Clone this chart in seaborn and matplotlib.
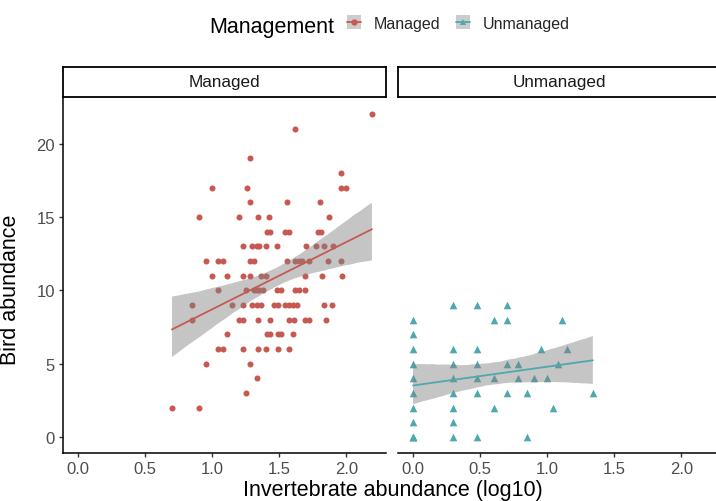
import numpy as np
import pandas as pd
import matplotlib
matplotlib.use("Agg")
import matplotlib.pyplot as plt
import seaborn as sns
from matplotlib.lines import Line2D
from matplotlib.patches import Patch

# managed sites, read row by row (bird abundance = y)
managed_x = [2.19, 1.62, 1.28, 1.96,
             1.00, 1.26, 1.96, 2.00,
             1.28, 1.56, 1.80,
             0.90, 1.20, 1.34, 1.42, 1.87,
             1.41, 1.43, 1.54, 1.57, 1.79, 1.81,
             1.23, 1.30, 1.33, 1.35, 1.40, 1.48, 1.70, 1.77, 1.83, 1.90,
             0.95, 1.04, 1.08, 1.28, 1.31, 1.56, 1.62, 1.65, 1.67, 1.72, 1.86, 1.96,
             1.00, 1.11, 1.23, 1.28, 1.36, 1.40, 1.69, 1.82, 1.97,
             1.04, 1.25, 1.31, 1.33, 1.35, 1.38, 1.48, 1.51, 1.62, 1.65, 1.69,
             0.85, 1.15, 1.23, 1.30, 1.33, 1.36, 1.46, 1.49, 1.54, 1.57, 1.60, 1.63, 1.83, 1.89,
             0.85, 1.20, 1.23, 1.34, 1.43, 1.57, 1.61, 1.69, 1.72, 1.85,
             1.11, 1.41, 1.43, 1.49, 1.51, 1.60,
             1.04, 1.08, 1.23, 1.34, 1.40, 1.49, 1.57,
             0.95, 1.28,
             1.33,
             1.25,
             0.70, 0.90]
managed_y = [22, 21, 19, 18,
             17, 17, 17, 17,
             16, 16, 16,
             15, 15, 15, 15, 15,
             14, 14, 14, 14, 14, 14,
             13, 13, 13, 13, 13, 13, 13, 13, 13, 13,
             12, 12, 12, 12, 12, 12, 12, 12, 12, 12, 12, 12,
             11, 11, 11, 11, 11, 11, 11, 11, 11,
             10, 10, 10, 10, 10, 10, 10, 10, 10, 10, 10,
             9, 9, 9, 9, 9, 9, 9, 9, 9, 9, 9, 9, 9, 9,
             8, 8, 8, 8, 8, 8, 8, 8, 8, 8,
             7, 7, 7, 7, 7, 7,
             6, 6, 6, 6, 6, 6, 6,
             5, 5,
             4,
             3,
             2, 2]

# unmanaged sites (two sites overlap at 0,0)
unmanaged_x = [0.30, 0.48, 0.70,
               0.00, 0.60, 0.70, 1.11,
               0.00,
               0.00, 0.30, 0.48, 0.95, 1.15,
               0.00, 0.30, 0.48, 0.70, 0.78, 1.08,
               0.00, 0.30, 0.48, 0.60, 0.78, 0.90, 1.00,
               0.00, 0.30, 0.48, 0.70, 0.85, 1.34,
               0.00, 0.30, 0.60, 1.04,
               0.00, 0.30,
               0.00, 0.00, 0.00, 0.30, 0.48, 0.85]
unmanaged_y = [9, 9, 9,
               8, 8, 8, 8,
               7,
               6, 6, 6, 6, 6,
               5, 5, 5, 5, 5, 5,
               4, 4, 4, 4, 4, 4, 4,
               3, 3, 3, 3, 3, 3,
               2, 2, 2, 2,
               1, 1,
               0, 0, 0, 0, 0, 0]

groups = ["Managed", "Unmanaged"]
colors = {"Managed": "#C65A52", "Unmanaged": "#4FA8AE"}
markers = {"Managed": "o", "Unmanaged": "^"}
sizes = {"Managed": 19, "Unmanaged": 30}
x_ticks = [0.0, 0.5, 1.0, 1.5, 2.0]
y_ticks = [0, 5, 10, 15, 20]

df = pd.concat([
    pd.DataFrame({"inv": managed_x, "birds": managed_y, "Management": "Managed"}),
    pd.DataFrame({"inv": unmanaged_x, "birds": unmanaged_y, "Management": "Unmanaged"}),
], ignore_index=True)

sns.set_theme(style="ticks")
plt.rcParams["font.family"] = ["Liberation Sans", "DejaVu Sans"]

fig = plt.figure(figsize=(7.16, 5.02), dpi=100)
W, H = 716, 502
panel_left = [63.3, 398.3]
panel_w = 322.7
top_px, bottom_px = 97.7, 454
strip_h = 29.4

for i, g in enumerate(groups):
    ax = fig.add_axes([panel_left[i] / W, 1 - bottom_px / H,
                       panel_w / W, (bottom_px - top_px) / H])
    sub = df[df["Management"] == g]
    sns.scatterplot(data=sub, x="inv", y="birds", ax=ax, color=colors[g],
                    marker=markers[g], s=sizes[g], linewidth=0, zorder=1)
    sns.regplot(data=sub, x="inv", y="birds", ax=ax, scatter=False,
                color=colors[g], line_kws={"lw": 1.3, "zorder": 3}, seed=0)
    # ggplot-like grey band drawn over the points
    band = ax.collections[-1]
    band.set_alpha(None)
    band.set_facecolor((0.5, 0.5, 0.5, 0.45))
    band.set_edgecolor("none")
    band.set_zorder(2)

    ax.set_xlim(-0.11, 2.295)
    ax.set_ylim(-1.1, 23.2)
    ax.set_xticks(x_ticks)
    ax.set_xticklabels([f"{t:.1f}" for t in x_ticks])
    ax.set_xlabel("")
    ax.set_ylabel("")
    ax.tick_params(axis="both", length=3, width=1, color="#333333",
                   labelsize=12, labelcolor="#4D4D4D", pad=3)
    for s in ["top", "right"]:
        ax.spines[s].set_visible(False)
    ax.spines["bottom"].set_linewidth(1.1)
    ax.spines["bottom"].set_color("black")
    if i == 0:
        ax.set_yticks(y_ticks)
        ax.spines["left"].set_linewidth(1.1)
        ax.spines["left"].set_color("black")
    else:
        ax.spines["left"].set_visible(False)
        ax.set_yticks([])

    # facet strip
    sax = fig.add_axes([panel_left[i] / W, 1 - top_px / H,
                        panel_w / W, strip_h / H])
    sax.set_xticks([])
    sax.set_yticks([])
    for s in sax.spines.values():
        s.set_linewidth(1.3)
        s.set_color("black")
    sax.text(0.5, 0.5, g, ha="center", va="center", fontsize=12.3,
             color="#1A1A1A", transform=sax.transAxes)

fig.text(393 / W, 1 - 496 / H, "Invertebrate abundance (log10)",
         ha="center", va="baseline", fontsize=15.5, color="black")
fig.text(11 / W, 1 - 290 / H, "Bird abundance", rotation=90,
         ha="center", va="center", fontsize=15.5, color="black")

# legend on top
fig.text(209 / W, 1 - 33.3 / H, "Management", ha="left", va="baseline",
         fontsize=15.5, color="black")
handles = [(Patch(facecolor=(0.8, 0.8, 0.8), edgecolor="none"),
            Line2D([], [], color=colors[g], marker=markers[g], markersize=4.5,
                   lw=1.3, markeredgewidth=0)) for g in groups]
fig.legend(handles, groups, loc="center left",
           bbox_to_anchor=(347 / W, 1 - 24 / H), ncol=2, frameon=False,
           fontsize=11.5, handlelength=0.85, handleheight=0.95,
           handletextpad=0.8, columnspacing=1.0, borderpad=0,
           borderaxespad=0)

fig.savefig("out.png", dpi=100)
